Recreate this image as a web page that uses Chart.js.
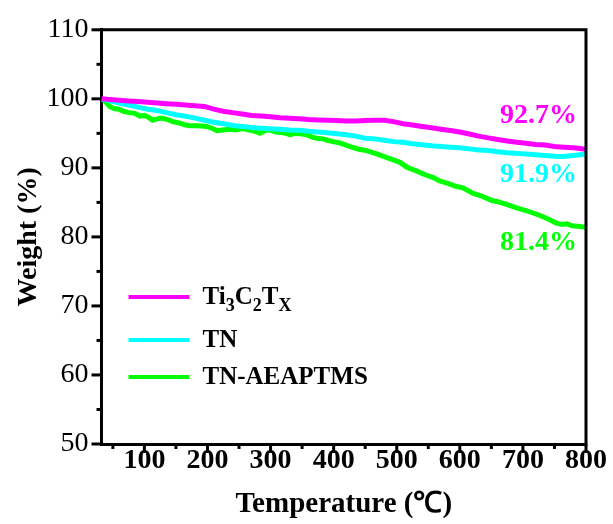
<!DOCTYPE html>
<html>
<head>
<meta charset="utf-8">
<script src="https://cdn.jsdelivr.net/npm/chart.js@4.4.1/dist/chart.umd.min.js"></script>
<style>
  html, body { margin: 0; padding: 0; background: #fff; }
  #wrap { width: 613px; height: 524px; position: relative; }
</style>
</head>
<body>
<div id="wrap"><canvas id="c" width="613" height="524"></canvas></div>
<script>
// ---- Data ----
const seriesNames = ['Ti3C2TX', 'TN', 'TN-AEAPTMS'];
const seriesColors = ['#FF00FF', '#00FFFF', '#00FF00'];
const endLabels = ['92.7%', '91.9%', '81.4%'];

const tempTi = [32, 45, 60, 75, 90, 105, 120, 135, 150, 165, 180, 195, 210, 225, 240, 255, 270, 285, 300, 315, 330, 345, 360, 375, 390, 405, 420, 435, 450, 465, 480, 495, 510, 525, 540, 555, 570, 585, 600, 615, 630, 645, 660, 675, 690, 705, 720, 735, 750, 765, 780, 790, 800];
const weightTi = [100.0, 99.9, 99.8, 99.7, 99.6, 99.5, 99.4, 99.3, 99.2, 99.1, 99.0, 98.9, 98.5, 98.2, 98.0, 97.8, 97.6, 97.5, 97.4, 97.25, 97.2, 97.1, 97.0, 96.95, 96.9, 96.85, 96.8, 96.8, 96.85, 96.9, 96.9, 96.7, 96.4, 96.2, 96.0, 95.8, 95.6, 95.4, 95.2, 94.9, 94.6, 94.35, 94.1, 93.9, 93.7, 93.55, 93.4, 93.3, 93.1, 93.0, 92.9, 92.8, 92.7];

const tempTN = [32, 45, 60, 75, 90, 105, 120, 135, 150, 165, 180, 195, 210, 225, 240, 255, 270, 285, 300, 315, 330, 345, 360, 375, 390, 405, 420, 435, 450, 465, 480, 495, 510, 525, 540, 555, 570, 585, 600, 615, 630, 645, 660, 675, 690, 705, 720, 735, 750, 765, 780, 790, 800];
const weightTN = [100.0, 99.7, 99.4, 99.1, 98.8, 98.5, 98.3, 98.0, 97.7, 97.5, 97.2, 96.9, 96.6, 96.4, 96.15, 96.0, 95.85, 95.75, 95.65, 95.6, 95.5, 95.45, 95.3, 95.2, 95.1, 94.95, 94.8, 94.6, 94.3, 94.2, 94.0, 93.8, 93.7, 93.5, 93.35, 93.2, 93.1, 93.0, 92.9, 92.75, 92.6, 92.5, 92.35, 92.2, 92.1, 92.0, 91.9, 91.8, 91.7, 91.65, 91.8, 91.9, 92.0];

const tempAE = [32, 38, 45, 52, 60, 66, 75, 85, 93, 100, 107, 113, 120, 128, 137, 145, 155, 165, 172, 185, 199, 208, 215, 225, 235, 245, 255, 265, 275, 283, 292, 299, 308, 320, 331, 340, 350, 357, 365, 373, 383, 390, 399, 410, 425, 440, 452, 462, 478, 490, 505, 516, 530, 545, 558, 568, 580, 595, 605, 621, 635, 650, 660, 674, 690, 705, 715, 727, 740, 753, 762, 770, 778, 790, 800];
const weightAE = [100.0, 99.6, 98.9, 98.6, 98.5, 98.2, 98.0, 97.9, 97.5, 97.6, 97.3, 96.9, 97.1, 97.2, 97.0, 96.7, 96.5, 96.2, 96.1, 96.1, 96.0, 95.7, 95.4, 95.5, 95.6, 95.5, 95.7, 95.5, 95.3, 95.0, 95.4, 95.5, 95.2, 95.1, 94.8, 95.0, 94.9, 94.8, 94.5, 94.3, 94.2, 94.0, 93.8, 93.6, 93.1, 92.7, 92.5, 92.2, 91.7, 91.3, 90.8, 90.1, 89.6, 89.0, 88.6, 88.1, 87.8, 87.3, 87.1, 86.3, 85.9, 85.3, 85.1, 84.7, 84.2, 83.8, 83.5, 83.1, 82.6, 82.0, 81.8, 81.9, 81.6, 81.5, 81.4];

const xTicks = [50, 100, 150, 200, 250, 300, 350, 400, 450, 500, 550, 600, 650, 700, 750, 800];
const yTicks = [50, 55, 60, 65, 70, 75, 80, 85, 90, 95, 100, 105, 110];
const xMin = 32, xMax = 800, yMin = 50, yMax = 110;

// ---- Build datasets ----
const seriesX = [tempTi, tempTN, tempAE];
const seriesY = [weightTi, weightTN, weightAE];
const datasets = seriesNames.map((name, i) => ({
  label: name,
  data: seriesX[i].map((t, k) => ({ x: t, y: seriesY[i][k] })),
  borderColor: seriesColors[i],
  backgroundColor: seriesColors[i],
  borderWidth: 5,
  pointRadius: 0,
  tension: 0,
  fill: false
}));

const SERIF = '"Liberation Serif", "Times New Roman", serif';

// legend label parts (subscripts)
const legendParts = [
  [['Ti', 0], ['3', 1], ['C', 0], ['2', 1], ['T', 0], ['X', 1]],
  [['TN', 0]],
  [['TN-AEAPTMS', 0]]
];

const decor = {
  id: 'decor',
  afterDraw(chart) {
    const { ctx, chartArea: a, scales: { x, y } } = chart;
    ctx.save();
    ctx.strokeStyle = '#000';
    ctx.lineWidth = 3;
    ctx.lineCap = 'butt';
    // frame top & right
    ctx.beginPath();
    ctx.moveTo(a.left - 1.5, a.top);
    ctx.lineTo(a.right, a.top);
    ctx.lineTo(a.right, a.bottom + 1.5);
    ctx.stroke();
    // y ticks
    yTicks.forEach(v => {
      const py = y.getPixelForValue(v);
      const len = (v % 10 === 0) ? 10 : 5;
      ctx.beginPath();
      ctx.moveTo(a.left - len, py);
      ctx.lineTo(a.left, py);
      ctx.stroke();
    });
    // x ticks
    xTicks.forEach(v => {
      const px = x.getPixelForValue(v);
      const len = (v % 100 === 0) ? 9 : 5;
      ctx.beginPath();
      ctx.moveTo(px, a.bottom);
      ctx.lineTo(px, a.bottom + len);
      ctx.stroke();
    });

    // legend
    const lx0 = a.left + 27, lx1 = a.left + 88, tx = a.left + 101;
    const rows = [297, 340, 377];
    chart.data.datasets.forEach((ds, i) => {
      const ly = rows[i];
      ctx.strokeStyle = ds.borderColor;
      ctx.lineWidth = 4;
      ctx.beginPath();
      ctx.moveTo(lx0, ly);
      ctx.lineTo(lx1, ly);
      ctx.stroke();
      let cx = tx;
      ctx.fillStyle = '#000';
      ctx.textBaseline = 'middle';
      ctx.textAlign = 'left';
      legendParts[i].forEach(([t, sub]) => {
        ctx.font = (sub ? 'bold 18px ' : 'bold 25px ') + SERIF;
        ctx.fillText(t, cx, ly + 1 + (sub ? 8 : 0));
        cx += ctx.measureText(t).width;
      });
    });

    // end labels
    const offs = [-33, 21, 16];
    ctx.font = 'bold 28px ' + SERIF;
    ctx.textAlign = 'right';
    ctx.textBaseline = 'middle';
    chart.data.datasets.forEach((ds, i) => {
      const last = seriesY[i][seriesY[i].length - 1];
      ctx.fillStyle = ds.borderColor;
      ctx.fillText(endLabels[i], a.right - 9, y.getPixelForValue(last) + offs[i]);
    });
    ctx.restore();
  }
};

new Chart(document.getElementById('c'), {
  type: 'line',
  data: { datasets },
  options: {
    responsive: false,
    animation: false,
    devicePixelRatio: 1,
    layout: { autoPadding: false, padding: { left: 0, right: 27, top: 23, bottom: 0 } },
    plugins: { legend: { display: false }, tooltip: { enabled: false } },
    scales: {
      x: {
        type: 'linear',
        min: xMin, max: xMax,
        afterFit: s => { s.height = 80; },
        afterBuildTicks: s => { s.ticks = xTicks.map(v => ({ value: v })); },
        grid: { display: false, drawTicks: false },
        border: { display: true, color: '#000', width: 3 },
        ticks: {
          autoSkip: false, maxRotation: 0, padding: 0,
          color: '#000',
          font: { family: SERIF, size: 28, weight: 'bold' },
          callback: v => (v % 100 === 0 ? String(v) : '')
        },
        title: {
          display: true, text: 'Temperature (℃)', color: '#000',
          font: { family: SERIF, size: 29, weight: 'bold' },
          padding: { top: 0, bottom: 2 }
        }
      },
      y: {
        type: 'linear',
        min: yMin, max: yMax,
        afterFit: s => { s.width = 101.5; },
        afterBuildTicks: s => { s.ticks = yTicks.map(v => ({ value: v })); },
        grid: { display: false, drawTicks: false },
        border: { display: true, color: '#000', width: 3 },
        ticks: {
          autoSkip: false, padding: 13,
          color: '#000',
          font: { family: SERIF, size: 28 },
          callback: v => (v % 10 === 0 ? String(v) : '')
        },
        title: {
          display: true, text: 'Weight (%)', color: '#000',
          font: { family: SERIF, size: 28, weight: 'bold' },
          padding: { top: 12, bottom: 0 }
        }
      }
    }
  },
  plugins: [decor]
});
</script>
</body>
</html>
